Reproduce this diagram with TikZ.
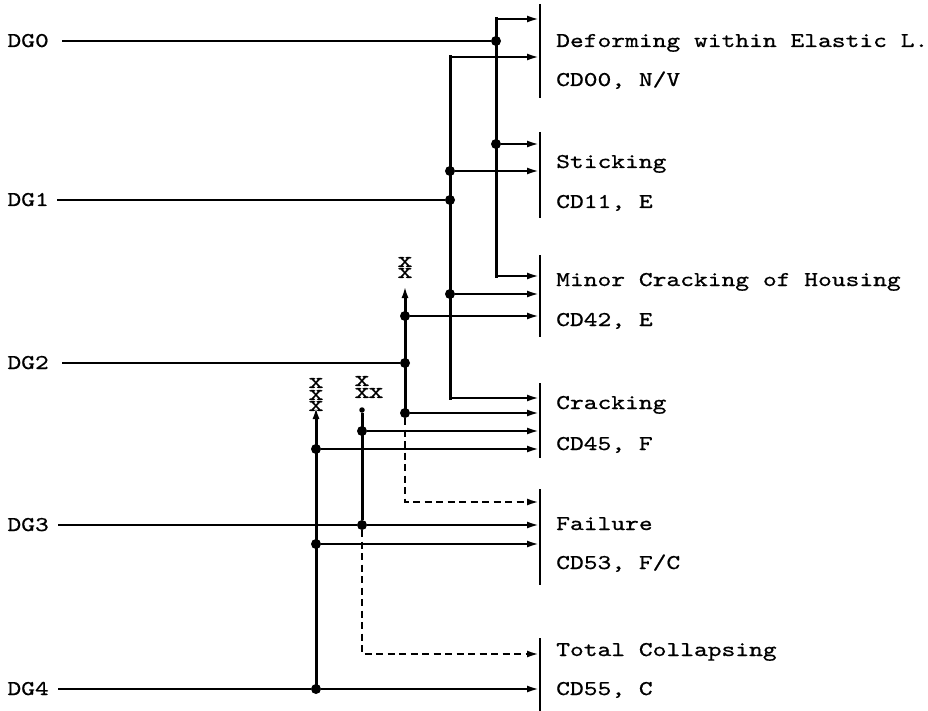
\documentclass[tikz,border=0pt]{standalone}
\usepackage{fontspec}
\usetikzlibrary{arrows.meta}
\newfontfamily\labfont{lmmono10-regular.otf}[FakeStretch=1.25, FakeBold=0.7]
\newcommand{\lbl}[1]{{\fontsize{21}{24}\labfont #1}}
\newcommand{\xlbl}[1]{{\fontsize{23}{24}\labfont #1}}
\begin{document}
\begin{tikzpicture}[x=1pt,y=-1pt,
  hline/.style={line width=2.1pt},
  vline/.style={line width=3pt},
  dashline/.style={line width=2.2pt, dash pattern=on 7pt off 4.5pt},
  arr/.style={-{Latex[length=12pt,width=7pt]}},
  dot/.style={circle, fill, inner sep=0pt, minimum size=10pt},
  sdot/.style={circle, fill, inner sep=0pt, minimum size=5.5pt},
  bar/.style={line width=2.4pt},
  lab/.style={anchor=base west, inner sep=0pt},
  dg/.style={anchor=base east, inner sep=0pt},
  xm/.style={inner sep=0pt}
]
\useasboundingbox (0,0) rectangle (928,711);

% bars
\coordinate (b1t) at (540,4);   \coordinate (b1b) at (540,98);
\coordinate (b2t) at (540,132); \coordinate (b2b) at (540,218);
\coordinate (b3t) at (540,255); \coordinate (b3b) at (540,337);
\coordinate (b4t) at (540,383); \coordinate (b4b) at (540,458);
\coordinate (b5t) at (540,489); \coordinate (b5b) at (540,585);
\coordinate (b6t) at (540,638); \coordinate (b6b) at (540,711);
\foreach \i in {1,...,6} \draw[bar] (b\i t) -- (b\i b);

% targets
\coordinate (t1a) at (539,19);  \coordinate (t1b) at (539,57);
\coordinate (t2a) at (539,144); \coordinate (t2b) at (539,171);
\coordinate (t3a) at (539,276); \coordinate (t3b) at (539,294); \coordinate (t3c) at (539,316);
\coordinate (t4a) at (539,398); \coordinate (t4b) at (539,413); \coordinate (t4c) at (539,431); \coordinate (t4d) at (539,449);
\coordinate (t5a) at (539,502); \coordinate (t5b) at (539,525); \coordinate (t5c) at (539,544);
\coordinate (t6a) at (539,654); \coordinate (t6b) at (539,689);

% dots
\node[dot] (a0) at (496,41) {};
\node[dot] (a1) at (496,144) {};
\node[dot] (b1) at (450,171) {};
\node[dot] (b0) at (450,200) {};
\node[dot] (b2) at (450,294) {};
\node[dot] (c1) at (405,316) {};
\node[dot] (c0) at (405,363) {};
\node[dot] (c2) at (405,413) {};
\node[sdot] (ds) at (362,410) {};
\node[dot] (d1) at (362,431) {};
\node[dot] (d0) at (362,525) {};
\node[dot] (e1) at (316,449) {};
\node[dot] (e2) at (316,544) {};
\node[dot] (e0) at (316,689) {};

% corners / tips
\coordinate (acT) at (496,19);  \coordinate (acB) at (496,276);
\coordinate (bcT) at (450,57);  \coordinate (bcB) at (450,398);
\coordinate (cTip) at (405,286);
\coordinate (eTip) at (316,407);

% line starts
\coordinate (g0) at (62,41);
\coordinate (g1) at (57,200);
\coordinate (g2) at (62,363);
\coordinate (g3) at (58,525);
\coordinate (g4) at (58,689);

% DG labels
\node[dg] (n0) at (49,47) {\lbl{DG0}};
\node[dg] (n1) at (49,206) {\lbl{DG1}};
\node[dg] (n2) at (49,369) {\lbl{DG2}};
\node[dg] (n3) at (49,531) {\lbl{DG3}};
\node[dg] (n4) at (49,695) {\lbl{DG4}};

% horizontal input lines
\draw[hline] (g0) -- (a0);
\draw[hline] (g1) -- (b0);
\draw[hline] (g2) -- (c0);
\draw[hline] (g3) -- (d0);
\draw[hline] (g4) -- (e0);

% column A
\draw[vline,line cap=rect] (acT) -- (acB);
\draw[hline,arr] (acT) -- (t1a);
\draw[hline,arr] (a1) -- (t2a);
\draw[hline,arr] (acB) -- (t3a);

% column B
\draw[vline,line cap=rect] (bcT) -- (bcB);
\draw[hline,arr] (bcT) -- (t1b);
\draw[hline,arr] (b1) -- (t2b);
\draw[hline,arr] (b2) -- (t3b);
\draw[hline,arr] (bcB) -- (t4a);

% column C
\draw[vline,arr] (c2.center) -- (cTip);
\draw[hline,arr] (c1) -- (t3c);
\draw[hline,arr] (c2) -- (t4b);
\draw[dashline,arr] (c2) |- (t5a);

% column D
\draw[vline] (ds) -- (d0);
\draw[hline,arr] (d1) -- (t4c);
\draw[hline,arr] (d0) -- (t5b);
\draw[dashline,arr] (d0) |- (t6a);

% column E
\draw[vline,arr] (e0.center) -- (eTip);
\draw[hline,arr] (e1) -- (t4d);
\draw[hline,arr] (e2) -- (t5c);
\draw[hline,arr] (e0) -- (t6b);

% x marks
\node[xm] (xc1) at (405,262) {\xlbl{x}};
\node[xm] (xc2) at (405,273) {\xlbl{x}};
\node[xm] (xd1) at (362,381) {\xlbl{x}};
\node[xm] (xd2) at (362,393) {\xlbl{x}};
\node[xm] (xd3) at (376,393) {\xlbl{x}};
\node[xm] (xe1) at (316,383) {\xlbl{x}};
\node[xm] (xe2) at (316,395) {\xlbl{x}};
\node[xm] (xe3) at (316,406) {\xlbl{x}};

% outcome labels
\node[lab] (l1a) at (556,47)  {\lbl{Deforming within Elastic L.}};
\node[lab] (l1b) at (556,86)  {\lbl{CD00, N/V}};
\node[lab] (l2a) at (556,168) {\lbl{Sticking}};
\node[lab] (l2b) at (556,208) {\lbl{CD11, E}};
\node[lab] (l3a) at (556,286) {\lbl{Minor Cracking of Housing}};
\node[lab] (l3b) at (556,326) {\lbl{CD42, E}};
\node[lab] (l4a) at (556,409) {\lbl{Cracking}};
\node[lab] (l4b) at (556,450) {\lbl{CD45, F}};
\node[lab] (l5a) at (556,530) {\lbl{Failure}};
\node[lab] (l5b) at (556,569) {\lbl{CD53, F/C}};
\node[lab] (l6a) at (556,656) {\lbl{Total Collapsing}};
\node[lab] (l6b) at (556,695) {\lbl{CD55, C}};
\end{tikzpicture}
\end{document}
